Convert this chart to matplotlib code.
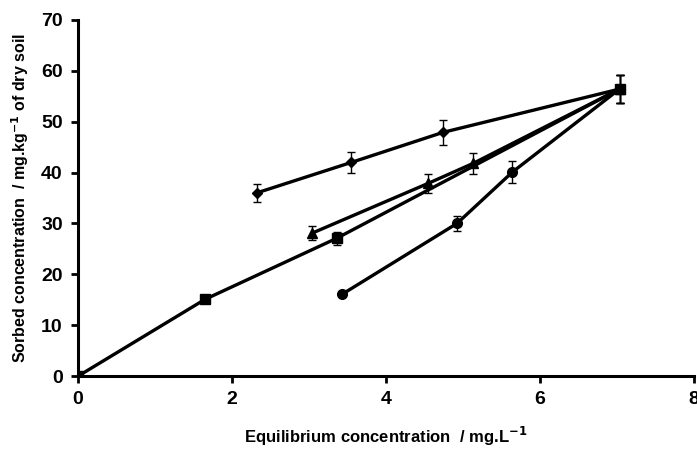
import numpy as np
import matplotlib
matplotlib.use('Agg')
import matplotlib.pyplot as plt

plt.rcParams['font.family'] = ['Liberation Sans', 'DejaVu Sans']

# diamond series
dia_x = [2.32, 3.55, 4.74, 7.03]
dia_y = [36.0, 42.0, 47.9, 56.4]
dia_err = [1.7, 2.1, 2.4, 2.8]

# triangle series
tri_x = [3.04, 4.55, 5.13, 7.03]
tri_y = [28.1, 37.9, 41.8, 56.4]
tri_err = [1.4, 1.9, 2.1, 2.8]

# square series
sq_x = [0.0, 1.65, 3.36, 7.03]
sq_y = [0.0, 15.1, 27.1, 56.4]
sq_err = [0.0, 0.0, 1.3, 2.8]

# circle series
circ_x = [3.43, 4.92, 5.64, 7.03]
circ_y = [16.1, 30.0, 40.1, 56.4]
circ_err = [0.0, 1.5, 2.1, 2.8]

fig = plt.figure(figsize=(6.97, 4.51), dpi=100)
ax = fig.add_axes([0.112, 0.166, 0.884, 0.790])

series = [
    (sq_x, sq_y, sq_err, 's', 7),
    (circ_x, circ_y, circ_err, 'o', 7),
    (tri_x, tri_y, tri_err, '^', 7),
    (dia_x, dia_y, dia_err, 'D', 5),
]
for xs, ys, errs, mk, ms in series:
    ax.plot(xs, ys, color='black', lw=2.4, marker=mk, markersize=ms,
            markerfacecolor='black', markeredgecolor='black', zorder=3)
    ax.errorbar(xs, ys, yerr=errs, fmt='none', ecolor='black',
                elinewidth=1.0, capsize=3, capthick=1.0, zorder=4)

ax.set_xlim(0, 8)
ax.set_ylim(0, 70)
ax.set_xticks([0, 2, 4, 6, 8])
ax.set_yticks(range(0, 71, 10))

for side in ['top', 'right']:
    ax.spines[side].set_visible(False)
for side in ['left', 'bottom']:
    ax.spines[side].set_linewidth(2.2)
    ax.spines[side].set_color('black')

ax.tick_params(axis='both', direction='out', width=2, length=5, labelsize=14, pad=6)
for lbl in ax.get_xticklabels() + ax.get_yticklabels():
    lbl.set_fontweight('bold')

ax.set_xlabel('Equilibrium concentration  / mg.L$^{\\mathbf{-1}}$',
              fontsize=12, fontweight='bold', labelpad=12)
ax.set_ylabel('Sorbed concentration  / mg.kg$^{\\mathbf{-1}}$ of dry soil',
              fontsize=11.5, fontweight='bold', labelpad=7)

fig.savefig('out.png', dpi=100)
